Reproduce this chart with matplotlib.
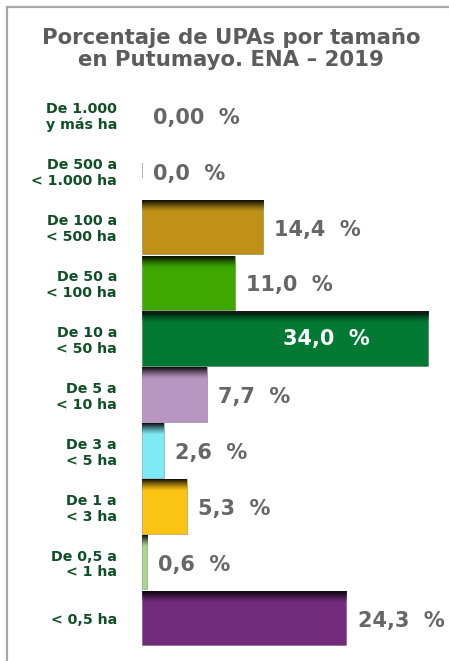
import numpy as np
import matplotlib
matplotlib.use("Agg")
import matplotlib.pyplot as plt
from matplotlib.lines import Line2D
from matplotlib.colors import to_rgba

# ---- data ----
categories = ["De 1.000\ny más ha", "De 500 a\n< 1.000 ha", "De 100 a\n< 500 ha",
              "De 50 a\n< 100 ha", "De 10 a\n< 50 ha", "De 5 a\n< 10 ha",
              "De 3 a\n< 5 ha", "De 1 a\n< 3 ha", "De 0,5 a\n< 1 ha", "< 0,5 ha"]
values = [0.00, 0.0, 14.4, 11.0, 34.0, 7.7, 2.6, 5.3, 0.6, 24.3]
value_labels = ["0,00  %", "0,0  %", "14,4  %", "11,0  %", "34,0  %",
                "7,7  %", "2,6  %", "5,3  %", "0,6  %", "24,3  %"]
title = "Porcentaje de UPAs por tamaño\nen Putumayo. ENA – 2019"

# ---- styles ----
colors = ["#ffffff", "#b0b0b0", "#BF9116", "#3DA800", "#007A33",
          "#B995C2", "#7DEAF5", "#FBC312", "#A8D88C", "#722A7A"]
label_colors = ["#666666"] * 10
label_colors[4] = "#ffffff"
cat_color = "#0f4f26"

W, H = 449, 661
fig = plt.figure(figsize=(W / 100, H / 100), dpi=100)
fig.patch.set_facecolor("white")

# border (left and top)
fig.add_artist(Line2D([7 / W, 7 / W], [0, 1 - 7 / H], color="#a8a8a8", lw=1.6))
fig.add_artist(Line2D([7 / W, 1], [1 - 7 / H, 1 - 7 / H], color="#a8a8a8", lw=1.6))

fig.text(231 / W, 1 - 49 / H, title, ha="center", va="center", fontsize=15.3,
         fontweight="bold", color="#5c5c5c", linespacing=1.1)

ax_left = 142 / W
ax = fig.add_axes([ax_left, 1 - 649 / H, 1 - ax_left, (649 - 87) / H])
ypos = np.arange(len(categories))
bh = 0.97
xmax = 307 / (286 / 34.0)

for i, (y, v) in enumerate(zip(ypos, values)):
    if i == 0:
        continue
    if i == 1:
        ax.bar(0, bh * 0.28, bottom=y - bh * 0.14, width=0.1, color=colors[i],
               align="edge", orientation="vertical")
        continue
    ax.barh(y, v, height=bh, color=colors[i], edgecolor=to_rgba("#000000", 0.25),
            linewidth=0.6)
    # top shadow gradient
    n = 32
    grad = np.zeros((n, 1, 4))
    grad[:, 0, 3] = np.linspace(0.95, 0.0, n) ** 1.3
    top = y - bh / 2
    ax.imshow(grad, extent=(0, v, top + bh * 0.22, top), origin="upper",
              aspect="auto", interpolation="bilinear", zorder=3)

for i, (y, v) in enumerate(zip(ypos, values)):
    if i == 4:
        ax.text(v * 0.645, y, value_labels[i], ha="center", va="center",
                fontsize=15, fontweight="bold", color=label_colors[i], zorder=5)
    else:
        ax.annotate(value_labels[i], (v, y), xytext=(8, -2), textcoords="offset points",
                    ha="left", va="center", fontsize=15, fontweight="bold",
                    color=label_colors[i], zorder=5)

ax.set_xlim(0, xmax)
ax.set_ylim(len(categories) - 1 + 0.55, -0.5)
ax.set_yticks(ypos)
ax.set_yticklabels(categories, fontsize=10.2, fontweight="bold", color=cat_color,
                   linespacing=1.15)
ax.tick_params(axis="y", length=0, pad=18)
ax.set_xticks([])
for s in ax.spines.values():
    s.set_visible(False)
ax.patch.set_alpha(0)

fig.savefig("out.png", dpi=100, facecolor="white")
